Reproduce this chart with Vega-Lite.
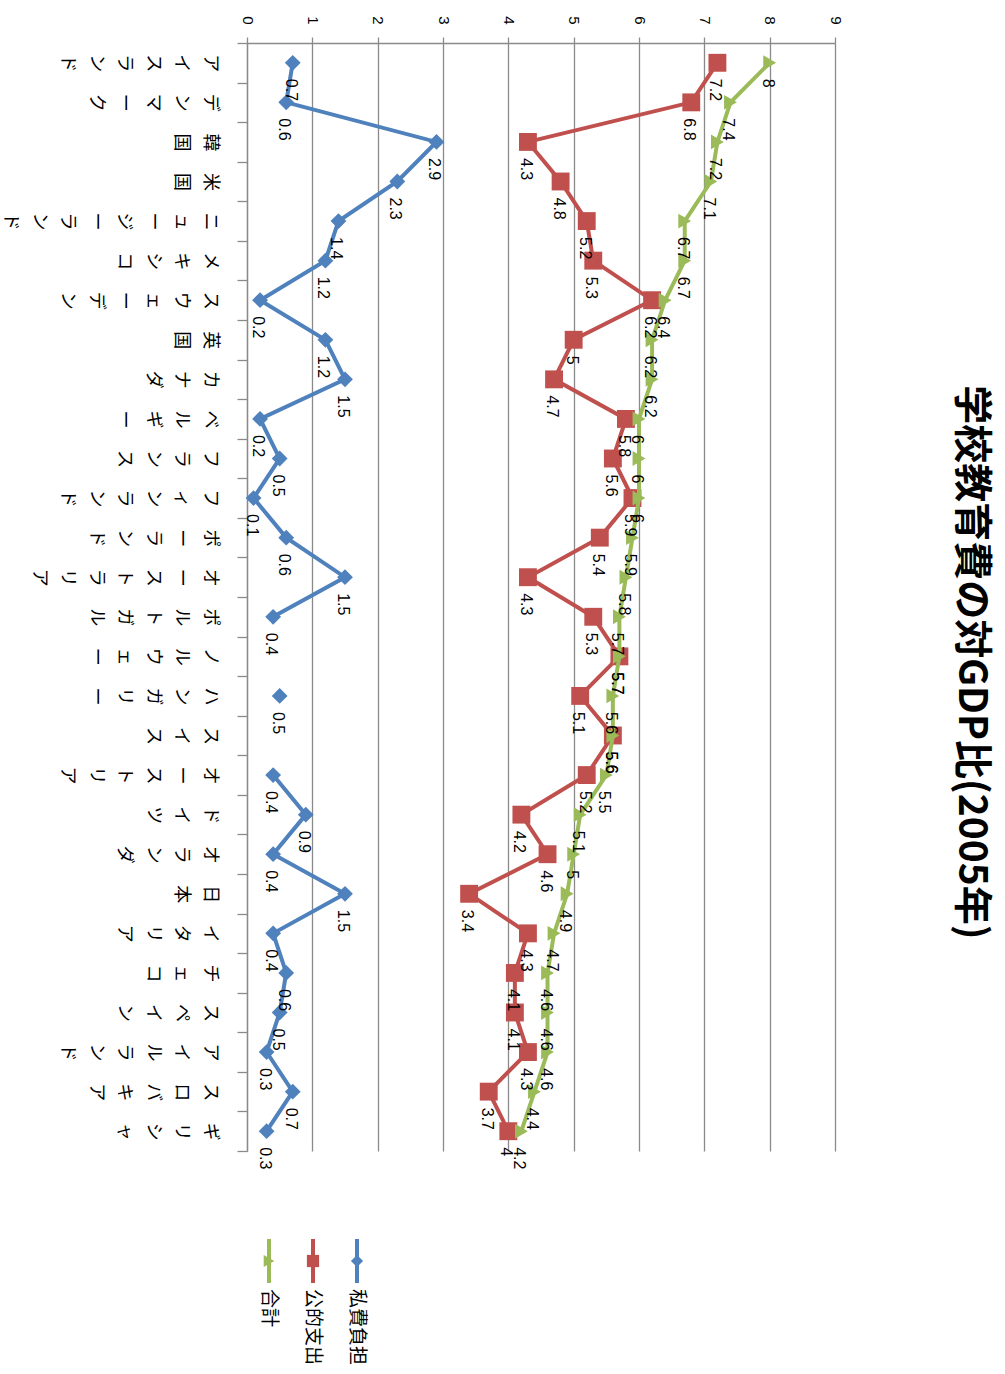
{
  "$schema": "https://vega.github.io/schema/vega-lite/v6.json",
  "background": "white",
  "autosize": {"type": "pad"},
  "padding": {"left": 0, "top": 15, "right": 20, "bottom": 0},
  "bounds": "flush",
  "spacing": 88,
  "title": {
    "text": "学校教育費の対GDP比(2005年)",
    "orient": "right",
    "anchor": "middle",
    "offset": 109,
    "dx": -28,
    "font": "Noto Sans CJK JP",
    "fontSize": 39,
    "fontWeight": "bold",
    "color": "#000000"
  },
  "datasets": {
    "edu": [
      {"country": "アイスランド", "rank": 1, "私費負担": 0.7, "公的支出": 7.2, "合計": 8},
      {"country": "デンマーク", "rank": 2, "私費負担": 0.6, "公的支出": 6.8, "合計": 7.4},
      {"country": "韓国", "rank": 3, "私費負担": 2.9, "公的支出": 4.3, "合計": 7.2},
      {"country": "米国", "rank": 4, "私費負担": 2.3, "公的支出": 4.8, "合計": 7.1},
      {"country": "ニュージーランド", "rank": 5, "私費負担": 1.4, "公的支出": 5.2, "合計": 6.7},
      {"country": "メキシコ", "rank": 6, "私費負担": 1.2, "公的支出": 5.3, "合計": 6.7},
      {"country": "スウェーデン", "rank": 7, "私費負担": 0.2, "公的支出": 6.2, "合計": 6.4},
      {"country": "英国", "rank": 8, "私費負担": 1.2, "公的支出": 5, "合計": 6.2},
      {"country": "カナダ", "rank": 9, "私費負担": 1.5, "公的支出": 4.7, "合計": 6.2},
      {"country": "ベルギー", "rank": 10, "私費負担": 0.2, "公的支出": 5.8, "合計": 6},
      {"country": "フランス", "rank": 11, "私費負担": 0.5, "公的支出": 5.6, "合計": 6},
      {"country": "フィンランド", "rank": 12, "私費負担": 0.1, "公的支出": 5.9, "合計": 6},
      {"country": "ポーランド", "rank": 13, "私費負担": 0.6, "公的支出": 5.4, "合計": 5.9},
      {"country": "オーストラリア", "rank": 14, "私費負担": 1.5, "公的支出": 4.3, "合計": 5.8},
      {"country": "ポルトガル", "rank": 15, "私費負担": 0.4, "公的支出": 5.3, "合計": 5.7},
      {"country": "ノルウェー", "rank": 16, "私費負担": null, "公的支出": 5.7, "合計": 5.7},
      {"country": "ハンガリー", "rank": 17, "私費負担": 0.5, "公的支出": 5.1, "合計": 5.6},
      {"country": "スイス", "rank": 18, "私費負担": null, "公的支出": 5.6, "合計": 5.6},
      {"country": "オーストリア", "rank": 19, "私費負担": 0.4, "公的支出": 5.2, "合計": 5.5},
      {"country": "ドイツ", "rank": 20, "私費負担": 0.9, "公的支出": 4.2, "合計": 5.1},
      {"country": "オランダ", "rank": 21, "私費負担": 0.4, "公的支出": 4.6, "合計": 5},
      {"country": "日本", "rank": 22, "私費負担": 1.5, "公的支出": 3.4, "合計": 4.9},
      {"country": "イタリア", "rank": 23, "私費負担": 0.4, "公的支出": 4.3, "合計": 4.7},
      {"country": "チェコ", "rank": 24, "私費負担": 0.6, "公的支出": 4.1, "合計": 4.6},
      {"country": "スペイン", "rank": 25, "私費負担": 0.5, "公的支出": 4.1, "合計": 4.6},
      {"country": "アイルランド", "rank": 26, "私費負担": 0.3, "公的支出": 4.3, "合計": 4.6},
      {"country": "スロバキア", "rank": 27, "私費負担": 0.7, "公的支出": 3.7, "合計": 4.4},
      {"country": "ギリシャ", "rank": 28, "私費負担": 0.3, "公的支出": 4, "合計": 4.2}
    ]
  },
  "vconcat": [
    {
      "width": 588,
      "height": 1108,
      "data": {"name": "edu"},
      "transform": [
        {"fold": ["私費負担", "公的支出", "合計"], "as": ["series", "value"]}
      ],
      "encoding": {
        "y": {
          "field": "country",
          "type": "nominal",
          "sort": {"field": "rank", "op": "min"},
          "scale": {"type": "band", "paddingInner": 0, "paddingOuter": 0},
          "axis": {
            "title": null,
            "orient": "left",
            "grid": false,
            "tickBand": "extent",
            "tickSize": 10,
            "tickColor": "#8a8a8a",
            "tickWidth": 1.3,
            "domainColor": "#8a8a8a",
            "domainWidth": 1.3,
            "labelAngle": 90,
            "labelAlign": "center",
            "labelBaseline": "top",
            "labelExpr": "split(datum.label, '')",
            "labelLineHeight": 28.5,
            "labelFont": "Noto Sans CJK JP",
            "labelFontSize": 18,
            "labelColor": "#000000",
            "labelPadding": 19,
            "labelLimit": 500,
            "labelOverlap": false
          }
        },
        "x": {
          "field": "value",
          "type": "quantitative",
          "scale": {"domain": [0, 9], "nice": false, "zero": true},
          "axis": {
            "title": null,
            "orient": "top",
            "values": [0, 1, 2, 3, 4, 5, 6, 7, 8, 9],
            "grid": true,
            "gridColor": "#8a8a8a",
            "gridWidth": 1.3,
            "domainColor": "#8a8a8a",
            "domainWidth": 1.3,
            "tickColor": "#8a8a8a",
            "tickWidth": 1.3,
            "tickSize": 6,
            "labelAngle": 90,
            "labelAlign": "right",
            "labelBaseline": "middle",
            "labelFont": "Liberation Sans",
            "labelFontSize": 15,
            "labelColor": "#000000",
            "labelPadding": 13,
            "labelFlush": false,
            "labelOverlap": false
          }
        },
        "color": {
          "field": "series",
          "type": "nominal",
          "scale": {
            "domain": ["私費負担", "公的支出", "合計"],
            "range": ["#4F81BD", "#C0504D", "#9BBB59"]
          },
          "legend": null
        }
      },
      "layer": [
        {
          "transform": [{"filter": "datum.series === '私費負担'"}],
          "mark": {
            "type": "line",
            "strokeWidth": 4,
            "invalid": "break-paths-filter-domains",
            "point": {"shape": "diamond", "size": 250, "filled": true, "opacity": 1}
          },
          "encoding": {"order": {"field": "rank", "type": "quantitative"}}
        },
        {
          "transform": [{"filter": "datum.series === '公的支出'"}],
          "mark": {
            "type": "line",
            "strokeWidth": 4,
            "invalid": "break-paths-filter-domains",
            "point": {"shape": "square", "size": 320, "filled": true, "opacity": 1}
          },
          "encoding": {"order": {"field": "rank", "type": "quantitative"}}
        },
        {
          "transform": [{"filter": "datum.series === '合計'"}],
          "mark": {
            "type": "line",
            "strokeWidth": 4,
            "invalid": "break-paths-filter-domains",
            "point": {"shape": "triangle-right", "size": 220, "filled": true, "opacity": 1}
          },
          "encoding": {"order": {"field": "rank", "type": "quantitative"}}
        },
        {
          "transform": [{"filter": "isValid(datum.value)"}],
          "mark": {
            "type": "text",
            "angle": 90,
            "align": "left",
            "baseline": "middle",
            "dx": 16,
            "dy": 2,
            "font": "Liberation Sans",
            "fontSize": 16
          },
          "encoding": {
            "text": {"field": "value", "type": "quantitative", "format": "~g"},
            "color": {"value": "#000000"}
          }
        }
      ]
    },
    {
      "width": 132,
      "height": 44,
      "data": {
        "values": [
          {"series": "私費負担"},
          {"series": "公的支出"},
          {"series": "合計"}
        ]
      },
      "encoding": {
        "x": {
          "field": "series",
          "type": "nominal",
          "scale": {"type": "point", "domain": ["合計", "公的支出", "私費負担"], "padding": 0.5},
          "axis": null
        },
        "color": {
          "field": "series",
          "type": "nominal",
          "scale": {
            "domain": ["私費負担", "公的支出", "合計"],
            "range": ["#4F81BD", "#C0504D", "#9BBB59"]
          },
          "legend": null
        }
      },
      "layer": [
        {"mark": {"type": "rule", "strokeWidth": 4}, "encoding": {}},
        {
          "mark": {"type": "point", "filled": true, "opacity": 1, "size": 150},
          "encoding": {
            "shape": {
              "field": "series",
              "type": "nominal",
              "scale": {
                "domain": ["私費負担", "公的支出", "合計"],
                "range": ["diamond", "square", "triangle-right"]
              },
              "legend": null
            }
          }
        },
        {
          "mark": {
            "type": "text",
            "angle": 90,
            "align": "left",
            "baseline": "middle",
            "dx": 28,
            "font": "Noto Sans CJK JP",
            "fontSize": 19
          },
          "encoding": {
            "text": {"field": "series", "type": "nominal"},
            "color": {"value": "#000000"}
          }
        }
      ]
    }
  ],
  "config": {
    "view": {"stroke": null},
    "font": "Noto Sans CJK JP"
  }
}
